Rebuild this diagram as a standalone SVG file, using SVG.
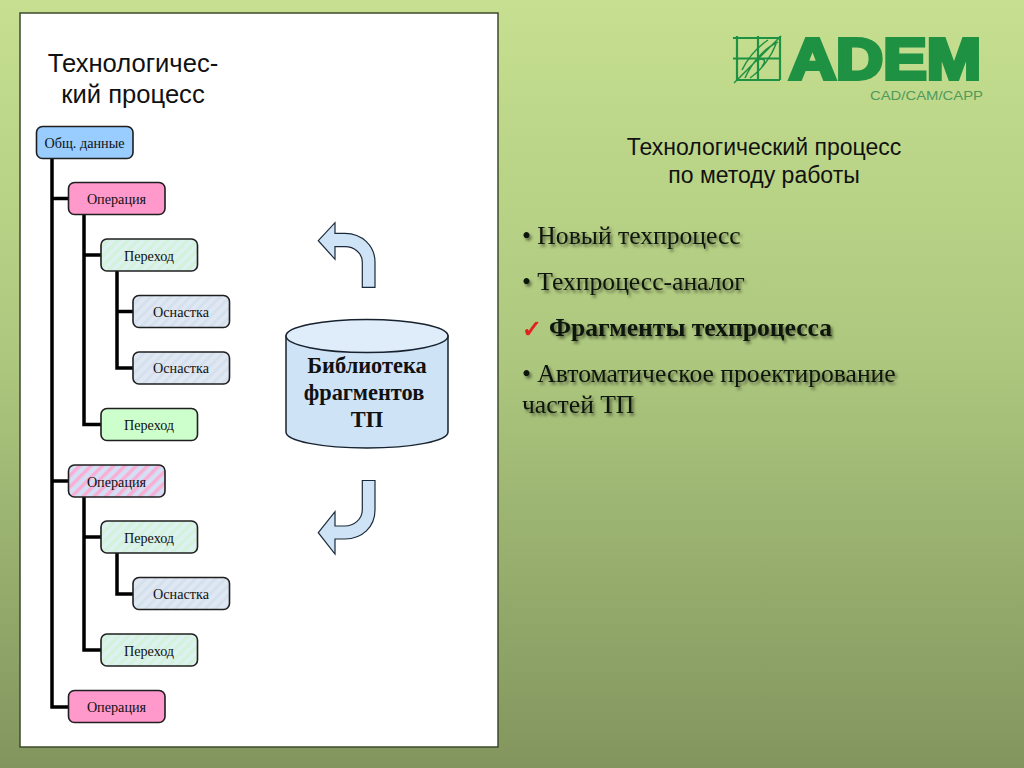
<svg xmlns="http://www.w3.org/2000/svg" width="1024" height="768" viewBox="0 0 1024 768">
<style>
.node{stroke:#1f1f1f;stroke-width:1.6}
.nt{font-family:"Liberation Serif",serif;font-size:14.2px;fill:#111;text-anchor:middle}
.conn{fill:none;stroke:#000;stroke-width:3.5;stroke-linejoin:miter}
.sans{font-family:"Liberation Sans",Arial,sans-serif;fill:#111}
.ttl{font-size:25.6px;text-anchor:middle}
.sub{font-size:23px;text-anchor:middle}
.bl{font-family:"Liberation Serif",serif;font-size:25.6px;fill:#10160a;filter:url(#sh)}
.cyl{font-family:"Liberation Serif",serif;font-weight:bold;font-size:22.4px;fill:#111;text-anchor:middle}
.arr{fill:#cfe3f7;stroke:#1b2a3a;stroke-width:1.2}
.lg{stroke:#1f9142;fill:none}
</style>
<defs>
<linearGradient id="bg" x1="0" y1="0" x2="0" y2="1"><stop offset="0" stop-color="#c6df90"/><stop offset="0.45" stop-color="#aec97f"/><stop offset="1" stop-color="#82955e"/></linearGradient>
<pattern id="hG" width="7" height="7" patternUnits="userSpaceOnUse" patternTransform="rotate(45)"><rect width="7" height="7" fill="#dcf1f0"/><rect width="3" height="7" fill="#d2f2da"/></pattern>
<pattern id="hB" width="7" height="7" patternUnits="userSpaceOnUse" patternTransform="rotate(45)"><rect width="7" height="7" fill="#dfe8f2"/><rect width="3" height="7" fill="#d5e0ee"/></pattern>
<pattern id="hP" width="8" height="8" patternUnits="userSpaceOnUse" patternTransform="rotate(45)"><rect width="8" height="8" fill="#d4dff5"/><rect width="3.500" height="8" fill="#f9aed4"/></pattern>
<filter id="sh" x="-5%" y="-30%" width="110%" height="170%"><feDropShadow dx="2" dy="2.500" stdDeviation="1.600" flood-color="#000" flood-opacity="0.5"/></filter>
</defs>
<rect id="background" width="1024" height="768" fill="url(#bg)"/>
<rect id="panel" x="20" y="13" width="478" height="734" fill="#fff" stroke="#3e4a2e" stroke-width="1.5"/>
<text class="sans ttl" x="133" y="72">Технологичес-</text>
<text class="sans ttl" x="133" y="103">кий процесс</text>
<g id="connectors">
<path class="conn" d="M52 158V707H68M52 198.500H68M52 481H68"/>
<path class="conn" d="M84 215V424.500H101M84 255H101"/>
<path class="conn" d="M117 271V368H133M117 311.500H133"/>
<path class="conn" d="M84 497V650H101M84 537H101"/>
<path class="conn" d="M117 553V594H133"/>
</g>
<g id="n1"><rect class="node" x="36.500" y="126.500" width="96.500" height="32" rx="6" fill="#99ccff"/><text class="nt" x="84.500" y="147.500">Общ. данные</text></g>
<g id="n2"><rect class="node" x="68.500" y="182.500" width="96.500" height="32" rx="6" fill="#ff99cc"/><text class="nt" x="116.500" y="203.500">Операция</text></g>
<g id="n3"><rect class="node" x="101" y="239" width="96.500" height="32" rx="6" fill="url(#hG)"/><text class="nt" x="149" y="260.500">Переход</text></g>
<g id="n4"><rect class="node" x="133" y="295.500" width="96.500" height="32" rx="6" fill="url(#hB)"/><text class="nt" x="181" y="316.500">Оснастка</text></g>
<g id="n5"><rect class="node" x="133" y="352" width="96.500" height="32" rx="6" fill="url(#hB)"/><text class="nt" x="181" y="373">Оснастка</text></g>
<g id="n6"><rect class="node" x="101" y="408.500" width="96.500" height="32" rx="6" fill="#ccffcc"/><text class="nt" x="149" y="429.500">Переход</text></g>
<g id="n7"><rect class="node" x="68.500" y="465" width="96.500" height="32" rx="6" fill="url(#hP)"/><text class="nt" x="116.500" y="486.500">Операция</text></g>
<g id="n8"><rect class="node" x="101" y="521" width="96.500" height="32" rx="6" fill="url(#hG)"/><text class="nt" x="149" y="542.500">Переход</text></g>
<g id="n9"><rect class="node" x="133" y="577.500" width="96.500" height="32" rx="6" fill="url(#hB)"/><text class="nt" x="181" y="598.500">Оснастка</text></g>
<g id="n10"><rect class="node" x="101" y="634" width="96.500" height="32" rx="6" fill="url(#hG)"/><text class="nt" x="149" y="655.500">Переход</text></g>
<g id="n11"><rect class="node" x="68.500" y="690.500" width="96.500" height="32" rx="6" fill="#ff99cc"/><text class="nt" x="116.500" y="712">Операция</text></g>
<g id="library">
<path d="M286 336V432C286 441 322 448 367 448S448 441 448 432V336Z" fill="#cfe3f7" stroke="#17222e" stroke-width="1.5"/>
<ellipse cx="367" cy="336" rx="81" ry="16.500" fill="#dfedfa" stroke="#17222e" stroke-width="1.5"/>
<text class="cyl" x="367" y="373">Библиотека</text>
<text class="cyl" x="364" y="400">фрагментов</text>
<text class="cyl" x="367" y="426.500">ТП</text>
</g>
<path id="arrow-up" class="arr" d="M318.300 240.700L335 222.700V233.300H345C362 233.300 375 246 375 262V287.300H362.300V262C362.300 253 354 246.700 345 246.700H335V259.300Z"/>
<path id="arrow-down" class="arr" d="M318.300 532.700L335 511.700V526H345C354 526 362.300 519 362.300 510V480.500H375V510C375 527 362 539 345 539H335V554Z"/>
<g id="logo">
<path class="lg" stroke-width="2.200" d="M733 38H780M733 58.500H780M737 80H780M737 36V80M758 36V80M780 36V80"/>
<path class="lg" stroke-width="1.500" d="M734 83L781 36M745 78C752 62 765 48 778 42M750 78C762 70 772 55 776 44M742 70C748 58 756 48 768 40M755 62C762 56 768 60 762 66"/>
<text x="789" y="79" textLength="192" lengthAdjust="spacingAndGlyphs" font-family="'Liberation Sans',sans-serif" font-weight="bold" font-size="57" fill="#1f9142" stroke="#1f9142" stroke-width="4" stroke-linejoin="miter">ADEM</text>
<text x="870" y="100" textLength="113" lengthAdjust="spacingAndGlyphs" font-family="'Liberation Sans',sans-serif" font-size="13.500" fill="#4f9a5b">CAD/CAM/CAPP</text>
</g>
<text class="sans sub" x="764" y="155">Технологический процесс</text>
<text class="sans sub" x="764" y="183">по методу работы</text>
<text class="bl" x="522" y="244">• Новый техпроцесс</text>
<text class="bl" x="522" y="290">• Техпроцесс-аналог</text>
<text x="522" y="337" font-family="'DejaVu Sans',sans-serif" font-size="24" font-weight="bold" fill="#e0201c" stroke="#e0201c" stroke-width="0.800">✓</text>
<text class="bl" x="549" y="336" font-weight="bold">Фрагменты техпроцесса</text>
<text class="bl" x="522" y="382">• Автоматическое проектирование</text>
<text class="bl" x="522" y="413">частей ТП</text>
</svg>
